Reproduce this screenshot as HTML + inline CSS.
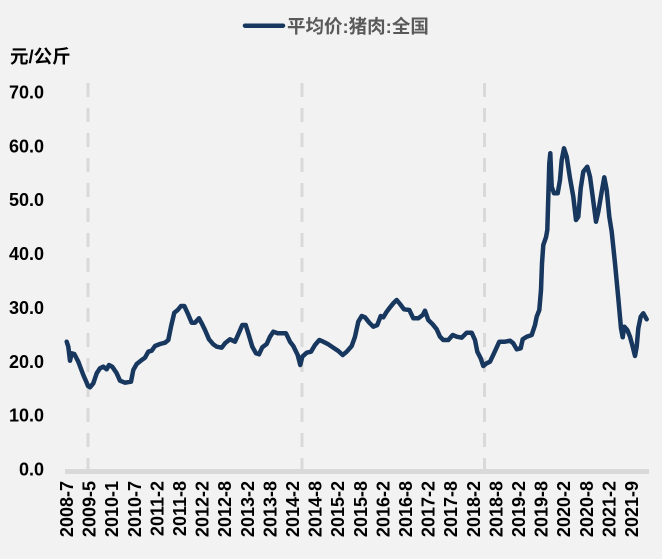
<!DOCTYPE html>
<html><head><meta charset="utf-8"><style>
html,body{margin:0;padding:0;background:#f2f2f2;}
svg{display:block;}
text{font-family:"Liberation Sans","Noto Sans CJK SC",sans-serif;font-weight:bold;}
</style></head><body>
<svg width="662" height="559" viewBox="0 0 662 559" xmlns="http://www.w3.org/2000/svg">
<rect width="662" height="559" fill="#f2f2f2"/>
<!-- legend -->
<line x1="245" y1="25.7" x2="283" y2="25.7" stroke="#17375e" stroke-width="4.5" stroke-linecap="round"/>
<text x="287" y="33" font-size="18.5" fill="#595959">平均价:猪肉:全国</text>
<!-- unit -->
<text x="10" y="63" font-size="18.5" fill="#000">元/公斤</text>
<!-- y labels -->
<g font-size="18" fill="#000" text-anchor="end">
<text x="44" y="98.5">70.0</text>
<text x="44" y="152.4">60.0</text>
<text x="44" y="206.2">50.0</text>
<text x="44" y="260.1">40.0</text>
<text x="44" y="313.9">30.0</text>
<text x="44" y="367.8">20.0</text>
<text x="44" y="421.7">10.0</text>
<text x="44" y="475.5">0.0</text>
</g>
<!-- dashed lines -->
<g stroke="#d9d9d9" stroke-width="3" stroke-dasharray="14 11">
<line x1="88" y1="83" x2="88" y2="469"/>
<line x1="302" y1="83" x2="302" y2="469"/>
<line x1="484.5" y1="83" x2="484.5" y2="469"/>
</g>
<!-- axis -->
<rect x="65" y="469" width="584" height="5" fill="#d9d9d9"/>
<!-- x labels -->
<g font-size="18" fill="#000" text-anchor="end">
<text transform="translate(66.7,481) rotate(-90)" dy="6.3">2008-7</text>
<text transform="translate(89.3,481) rotate(-90)" dy="6.3">2009-5</text>
<text transform="translate(111.9,481) rotate(-90)" dy="6.3">2010-1</text>
<text transform="translate(134.5,481) rotate(-90)" dy="6.3">2010-7</text>
<text transform="translate(157.1,481) rotate(-90)" dy="6.3">2011-2</text>
<text transform="translate(179.7,481) rotate(-90)" dy="6.3">2011-8</text>
<text transform="translate(202.3,481) rotate(-90)" dy="6.3">2012-2</text>
<text transform="translate(224.9,481) rotate(-90)" dy="6.3">2012-8</text>
<text transform="translate(247.5,481) rotate(-90)" dy="6.3">2013-2</text>
<text transform="translate(270.1,481) rotate(-90)" dy="6.3">2013-8</text>
<text transform="translate(292.7,481) rotate(-90)" dy="6.3">2014-2</text>
<text transform="translate(315.3,481) rotate(-90)" dy="6.3">2014-8</text>
<text transform="translate(337.9,481) rotate(-90)" dy="6.3">2015-2</text>
<text transform="translate(360.5,481) rotate(-90)" dy="6.3">2015-8</text>
<text transform="translate(383.1,481) rotate(-90)" dy="6.3">2016-2</text>
<text transform="translate(405.7,481) rotate(-90)" dy="6.3">2016-8</text>
<text transform="translate(428.3,481) rotate(-90)" dy="6.3">2017-2</text>
<text transform="translate(450.9,481) rotate(-90)" dy="6.3">2017-8</text>
<text transform="translate(473.5,481) rotate(-90)" dy="6.3">2018-2</text>
<text transform="translate(496.1,481) rotate(-90)" dy="6.3">2018-8</text>
<text transform="translate(518.7,481) rotate(-90)" dy="6.3">2019-2</text>
<text transform="translate(541.3,481) rotate(-90)" dy="6.3">2019-8</text>
<text transform="translate(563.9,481) rotate(-90)" dy="6.3">2020-2</text>
<text transform="translate(586.5,481) rotate(-90)" dy="6.3">2020-8</text>
<text transform="translate(609.1,481) rotate(-90)" dy="6.3">2021-2</text>
<text transform="translate(631.7,481) rotate(-90)" dy="6.3">2021-9</text>
</g>
<!-- series -->
<polyline fill="none" stroke="#17375e" stroke-width="4.5" stroke-linejoin="round" stroke-linecap="round" points="
66.7,341.7 68.3,346.7 70,360.7 71.7,353.3 74.3,354 78.3,361.7 83.3,375 86.7,382.7 88,386 90,387.3 93.3,383.3 96.7,373.3 100,368.3 103.3,366.7 106.7,369.3 109,365 112.3,366.7 116.7,373.3 120,380.7 125,382.7 131,381.7 133.3,370 136.7,364 141.7,360 145,357.7 148.3,351.7 151.7,350.7 155,346 160,344 165,342.7 168.3,340 171,326.7 174.3,312.7 177.7,310 181,306 184.3,306 187.7,313.3 191.7,322.7 195,322.7 199,318.3 201.7,323.3 205,330 209,339.3 213.3,344.3 216.7,346.7 221.7,347.7 225,343.3 230,339.3 235,341.7 239,332.7 242.3,325 245.7,325 248.3,333.3 252.3,346.7 256,353.3 259,354.3 262.3,347.3 266.7,344 270,336.7 273.3,331.7 277.7,333.3 281.7,333.3 286,333.3 290,341.7 293.3,346 297.7,355 300.3,365 302.3,356.7 306.7,352.7 311,351.7 315,345 319.3,340 323.3,341.7 328.3,344.3 333.3,347.7 338.3,351 342.7,355 346.7,351.7 351.7,346 355,336.7 358.3,321.7 361.7,316 365,317.3 369.3,322.7 373.3,326.7 377.3,325 380.7,316 383.3,317.3 386.7,311.7 389.3,308.3 393.3,303.3 396.7,300 400,304 404,309.3 409.3,310 413.3,318.3 418.3,318.3 422.7,315 425,310.7 428.3,320 432.7,324.3 436.7,329.3 440,336.7 443.3,340 448.3,340 452.7,335 456.7,336.7 461.7,337.7 466.7,332.7 471.7,332.7 475,340 477.3,351.7 480.7,358.3 483.3,366 486.7,363.3 490,361.7 494,353.3 499.3,341.7 505,341.7 510,340.7 513.3,343.3 516.7,349.3 520.7,348.3 522.7,339.3 526.7,336.7 531.7,335 535,325 536.7,316.7 539.3,310 541,290 542,263.3 543.3,245 546,237.3 547.3,230 548.3,196.7 549.3,163.3 550.3,153.3 551.7,186.7 554,193.3 557.7,193.3 560,180 561.7,160 564,148.3 566.7,156.7 570,178.3 573.3,196.7 576,220 578.3,216.7 580.7,188.3 583.3,171.7 587.3,166.7 590,176.7 592.7,196.7 596,221.7 598.3,211.7 601.7,191.7 604.3,177.3 606.7,190 609.3,216.7 611.7,231.7 615,263.3 618.3,298.3 621,328.3 622.7,337.3 624.3,326.7 627.3,330 630,336.7 632.7,346.7 635,356 636.7,346.7 638.3,328.3 640.7,316.7 643.3,313.3 646.7,319.3"/>
</svg>
</body></html>
